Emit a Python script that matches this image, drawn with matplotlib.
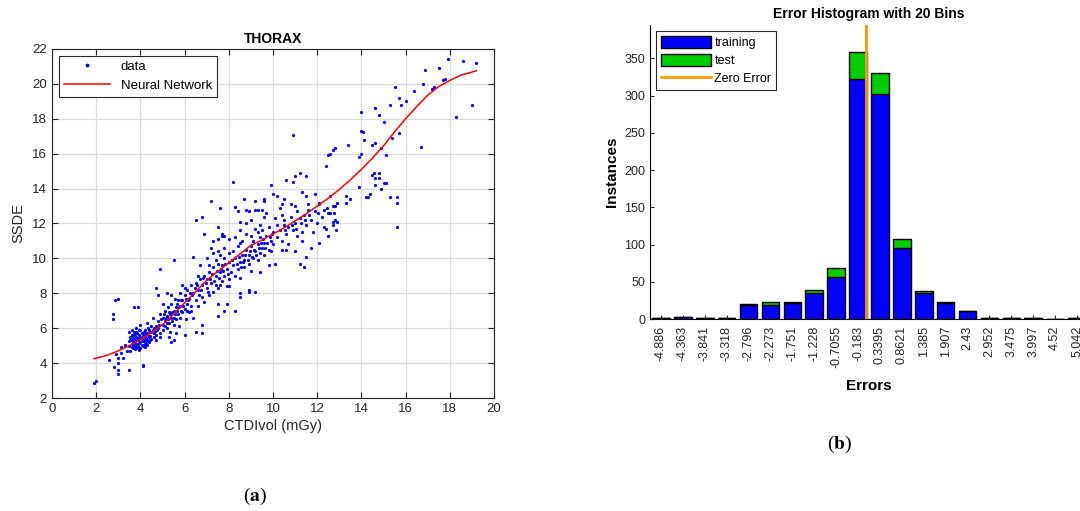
import numpy as np
import matplotlib
matplotlib.use('Agg')
import matplotlib.pyplot as plt
from matplotlib.patches import Patch
from matplotlib.lines import Line2D

plt.rcParams['font.family'] = ['Liberation Sans', 'DejaVu Sans']
plt.rcParams['mathtext.fontset'] = 'stix'

# ---- (a) THORAX scatter: points (CTDIvol, SSDE)
data_pts = [
    # sparse / outliers
    (1.9, 2.85), (2.0, 3.0), (2.6, 4.2), (2.8, 3.8), (2.75, 6.8), (2.75, 6.5), (2.85, 7.6), (3.0, 7.65),
    (3.0, 3.4), (3.0, 3.6), (3.0, 4.0), (3.0, 4.3), (3.1, 4.6), (3.1, 4.9), (3.2, 4.3), (2.9, 4.5),
    (3.3, 5.0), (3.5, 3.6), (3.7, 7.2), (3.9, 7.2), (4.1, 3.9), (4.12, 3.85), (4.7, 8.3), (4.8, 7.9),
    (4.9, 9.4), (5.5, 9.9), (5.4, 5.2), (5.5, 5.3), (6.0, 5.6), (6.5, 12.2), (6.4, 10.1), (6.8, 12.4),
    (6.9, 11.4), (6.5, 5.8), (6.8, 5.7), (6.8, 6.2), (7.2, 13.3), (7.5, 6.7), (7.5, 11.8), (7.6, 12.9),
    (7.5, 11.1), (7.5, 10.4), (7.7, 11.3), (8.2, 14.4), (8.3, 12.95), (8.4, 12.7), (7.5, 7.4), (7.8, 7.0),
    (8.3, 7.0), (8.5, 7.8), (8.5, 8.0), (8.9, 8.1), (9.2, 8.1), (8.9, 8.2), (9.4, 9.2), (9.8, 9.6),
    (10.1, 9.7), (8.7, 13.4), (9.2, 13.3), (9.6, 13.4), (9.3, 12.8), (9.7, 12.6), (9.9, 14.2), (10.0, 13.7),
    (10.2, 13.6), (10.5, 13.4), (10.9, 17.1), (10.6, 14.5), (10.9, 14.4), (11.0, 14.7), (11.2, 14.9),
    (11.5, 14.7), (11.0, 13.0), (11.3, 13.8), (11.5, 13.6), (11.6, 13.1), (11.9, 13.7), (12.1, 13.2),
    (10.6, 10.5), (11.0, 10.4), (11.2, 9.7), (11.4, 9.5), (11.5, 10.1), (12.1, 10.9), (12.3, 11.8),
    (12.5, 12.6), (12.6, 13.6), (12.8, 13.0), (12.7, 12.1), (12.5, 11.3), (12.9, 12.1), (12.4, 15.3),
    (12.5, 15.9), (12.6, 16.0), (12.7, 16.2), (12.8, 16.3), (13.4, 16.5), (13.3, 13.6), (13.3, 13.2),
    (13.5, 13.4), (13.9, 14.1), (13.9, 15.8), (14.0, 16.0), (14.0, 17.3), (14.05, 17.25), (14.0, 18.4),
    (14.1, 16.8), (14.2, 13.5), (14.3, 13.5), (14.4, 13.7), (14.5, 14.8), (14.55, 14.9), (14.6, 14.6),
    (14.6, 14.2), (14.8, 14.6), (14.9, 14.0), (15.0, 14.3), (15.1, 14.3), (14.8, 14.9), (14.5, 16.5),
    (14.6, 16.6), (14.6, 18.6), (14.8, 18.2), (14.9, 16.3), (15.0, 17.8), (15.1, 15.9), (15.3, 18.8),
    (15.3, 13.5), (15.4, 16.9), (15.5, 19.8), (15.6, 13.2), (15.6, 13.5), (15.6, 11.8), (15.7, 19.2),
    (15.7, 17.2), (15.8, 18.8), (16.0, 19.0), (16.4, 19.6), (16.7, 16.4), (16.8, 20.0), (16.9, 20.8),
    (17.2, 19.7), (17.3, 19.8), (17.5, 20.9), (17.7, 20.2), (17.8, 20.3), (17.9, 21.4), (18.3, 18.1),
    (18.6, 21.3), (19.0, 18.8), (19.2, 21.2),
    # dense blob x 3.3-4.8
    (3.5, 5.0), (3.55, 5.3), (3.6, 5.6), (3.6, 4.9), (3.65, 5.2), (3.7, 5.8), (3.7, 5.4), (3.7, 5.0),
    (3.75, 4.8), (3.8, 5.5), (3.8, 5.1), (3.85, 5.7), (3.85, 4.9), (3.9, 5.3), (3.9, 5.0), (3.95, 5.6),
    (4.0, 5.9), (4.0, 5.2), (4.0, 4.85), (4.05, 5.4), (4.1, 5.7), (4.1, 5.0), (4.15, 5.3), (4.2, 5.9),
    (4.2, 5.5), (4.25, 5.1), (4.3, 5.7), (4.3, 5.35), (4.35, 6.0), (4.4, 5.5), (4.4, 5.2), (4.45, 5.8),
    (4.5, 6.1), (4.5, 5.4), (4.55, 6.6), (4.6, 5.7), (4.6, 5.5), (4.7, 6.1), (4.7, 5.3), (4.75, 5.9),
    (3.3, 5.05), (3.4, 4.7), (3.5, 5.8), (3.6, 5.9), (3.8, 6.0), (4.0, 6.2), (4.3, 6.3), (3.55, 4.7),
    (4.2, 4.9), (3.95, 4.75), (3.6, 5.1), (3.65, 5.45), (3.75, 5.25), (3.8, 4.95), (3.9, 5.45),
    (3.95, 5.15), (4.05, 5.05), (4.1, 5.55), (4.15, 5.8), (4.25, 5.45), (4.35, 5.25), (4.45, 5.55),
    (3.7, 5.6), (3.85, 5.35), (4.0, 5.5), (4.2, 5.2), (4.5, 5.8), (4.6, 6.0), (3.65, 4.85), (4.4, 5.9),
    (3.55, 5.5), (3.6, 5.35), (3.7, 5.15), (3.75, 5.65), (3.8, 5.8), (3.85, 5.1), (3.9, 4.85),
    (3.95, 5.9), (4.05, 5.7), (4.1, 5.25), (4.15, 5.05), (4.2, 5.65), (4.3, 5.05), (4.35, 5.6),
    (4.45, 5.35), (4.55, 5.9), (4.65, 5.85), (4.7, 5.6), (3.5, 5.25), (3.75, 4.9),
    # band x 4.8-6.5
    (4.8, 6.0), (4.8, 6.4), (4.9, 5.7), (4.9, 6.8), (5.0, 6.2), (5.0, 6.6), (5.0, 5.9), (5.1, 6.4),
    (5.1, 7.0), (5.2, 6.0), (5.2, 6.7), (5.25, 7.2), (5.3, 6.3), (5.3, 6.9), (5.35, 5.8), (5.4, 6.6),
    (5.4, 7.4), (5.5, 6.2), (5.5, 7.0), (5.55, 7.7), (5.6, 6.5), (5.6, 7.2), (5.7, 6.8), (5.7, 7.6),
    (5.75, 6.1), (5.8, 7.3), (5.8, 8.0), (5.9, 6.9), (5.9, 7.6), (6.0, 7.1), (6.0, 7.9), (6.05, 6.5),
    (6.1, 7.4), (6.1, 8.2), (6.2, 7.7), (6.2, 6.9), (6.3, 8.5), (6.3, 7.3), (6.4, 8.0), (6.4, 6.6),
    (6.5, 7.6), (6.5, 8.6), (5.2, 8.0), (5.4, 7.9), (5.9, 8.5), (6.0, 8.3), (5.0, 7.4), (5.6, 5.7),
    (5.3, 5.5), (4.9, 5.5), (5.1, 6.1), (5.45, 6.9), (5.65, 7.0), (5.85, 7.0), (6.15, 7.6), (6.35, 7.9),
    (4.85, 6.2), (4.95, 6.5), (5.05, 6.8), (5.15, 6.6), (5.25, 6.5), (5.35, 6.8), (5.45, 6.4),
    (5.55, 6.8), (5.65, 7.4), (5.75, 7.2), (5.85, 7.6), (5.95, 7.3), (6.05, 7.7), (6.25, 8.0),
    (6.45, 8.3), (5.2, 6.3), (5.5, 6.6), (5.8, 6.6), (6.1, 7.0), (6.3, 7.0),
    # band x 6.5-8
    (6.6, 8.2), (6.6, 7.3), (6.7, 8.8), (6.8, 7.8), (6.8, 8.5), (6.9, 9.0), (6.9, 7.5), (7.0, 8.3),
    (7.0, 8.8), (7.1, 9.2), (7.1, 7.9), (7.2, 8.6), (7.3, 9.5), (7.3, 8.1), (7.4, 9.0), (7.4, 8.5),
    (7.5, 9.7), (7.5, 8.3), (7.6, 9.2), (7.6, 10.2), (7.7, 8.7), (7.7, 9.6), (7.8, 10.0), (7.8, 9.0),
    (7.9, 8.4), (7.9, 9.4), (8.0, 10.3), (8.0, 9.8), (8.0, 8.8), (7.2, 10.6), (7.0, 10.0), (7.3, 10.3),
    (7.8, 10.6), (7.7, 11.4), (6.7, 9.6), (6.6, 9.0), (7.9, 7.4), (8.0, 8.4),
    (6.55, 8.5), (6.65, 7.9), (6.75, 8.2), (6.85, 8.9), (6.95, 8.6), (7.05, 8.1), (7.15, 8.8),
    (7.25, 9.1), (7.35, 8.7), (7.45, 9.3), (7.55, 8.9), (7.65, 9.4), (7.75, 9.3), (7.85, 9.7),
    (7.95, 9.1), (7.1, 9.6), (7.4, 9.9), (7.6, 8.5),
    # band x 8-10.3
    (8.1, 9.2), (8.2, 9.6), (8.2, 10.4), (8.3, 9.0), (8.3, 10.0), (8.4, 9.4), (8.4, 10.7), (8.5, 9.8),
    (8.5, 8.9), (8.6, 10.2), (8.6, 11.0), (8.7, 9.5), (8.7, 9.9), (8.8, 10.5), (8.8, 11.4), (8.9, 9.7),
    (8.9, 10.2), (9.0, 10.7), (9.0, 9.3), (9.1, 11.0), (9.1, 10.0), (9.2, 10.4), (9.2, 11.7), (9.3, 10.8),
    (9.3, 9.9), (9.4, 11.2), (9.4, 10.3), (9.5, 10.6), (9.5, 11.6), (9.6, 10.9), (9.6, 10.2), (9.7, 11.3),
    (9.8, 10.5), (9.8, 11.8), (9.9, 11.0), (10.0, 11.5), (10.0, 10.8), (10.1, 12.3), (10.2, 11.2),
    (10.3, 11.6), (8.5, 11.6), (8.8, 12.0), (9.0, 12.2), (9.2, 12.8), (9.4, 11.9), (8.5, 10.9),
    (8.3, 11.2), (9.6, 12.4), (9.0, 11.3), (9.9, 10.4),
    (8.15, 9.9), (8.35, 9.7), (8.45, 10.1), (8.55, 9.5), (8.65, 9.8), (8.75, 10.2), (8.85, 9.9),
    (8.95, 10.4), (9.05, 10.1), (9.15, 10.5), (9.25, 10.2), (9.35, 10.6), (9.45, 10.9), (9.55, 11.1),
    (9.65, 10.6), (9.75, 10.9), (9.85, 11.2), (9.95, 11.4),
    # x 10.3-13
    (10.4, 11.0), (10.5, 11.9), (10.5, 12.2), (10.6, 11.4), (10.7, 11.8), (10.8, 12.4), (10.9, 11.6),
    (11.0, 12.0), (11.1, 11.3), (11.1, 12.7), (11.2, 12.3), (11.3, 11.5), (11.4, 12.5), (11.5, 11.9),
    (11.6, 12.8), (11.7, 12.2), (11.8, 11.5), (11.9, 12.7), (12.0, 12.0), (12.1, 13.1), (12.2, 12.4),
    (12.3, 12.8), (12.4, 11.7), (12.6, 12.6), (12.7, 13.0), (12.8, 12.2), (12.9, 13.2), (12.85, 11.6),
    (12.7, 11.9), (10.4, 12.5), (10.7, 10.8), (11.3, 11.0), (11.7, 10.6), (10.2, 11.9), (10.4, 10.5),
    (10.55, 11.6), (10.85, 11.9), (11.05, 11.7), (11.25, 12.0), (11.45, 12.2), (11.65, 12.5),
    (12.05, 12.6), (12.45, 12.9), (12.75, 12.6),
    # upper spread x 7-10.8
    (7.3, 11.0), (7.8, 11.3), (8.0, 11.1), (8.5, 12.1), (8.9, 12.7), (8.8, 12.8), (9.3, 11.5),
    (9.6, 13.3), (9.5, 12.8), (10.3, 12.9), (10.8, 13.1), (10.4, 13.1),
]
ctdi = [p[0] for p in data_pts]
ssde = [p[1] for p in data_pts]

# neural network fit curve
nn_x = [1.9, 2.5, 3, 3.5, 4, 4.5, 5, 5.5, 6, 6.5, 7, 7.5, 8, 8.5, 9, 9.5, 10, 10.5, 11,
        11.5, 12, 12.5, 13, 13.5, 14, 14.5, 15, 15.5, 16, 16.5, 17, 17.5, 18, 18.5, 19.2]
nn_y = [4.25, 4.45, 4.7, 5.0, 5.35, 5.75, 6.2, 6.8, 7.45, 8.1, 8.75, 9.25, 9.75, 10.25, 10.75,
        11.05, 11.4, 11.75, 12.15, 12.55, 13.0, 13.45, 13.95, 14.5, 15.1, 15.75, 16.45, 17.25,
        18.0, 18.7, 19.35, 19.85, 20.2, 20.5, 20.75]

# ---- (b) error histogram
bin_centers = [-4.886, -4.363, -3.841, -3.318, -2.796, -2.273, -1.751, -1.228, -0.7055, -0.183,
               0.3395, 0.8621, 1.385, 1.907, 2.43, 2.952, 3.475, 3.997, 4.52, 5.042]
bin_labels = ['-4.886', '-4.363', '-3.841', '-3.318', '-2.796', '-2.273', '-1.751', '-1.228',
              '-0.7055', '-0.183', '0.3395', '0.8621', '1.385', '1.907', '2.43', '2.952',
              '3.475', '3.997', '4.52', '5.042']
training = [2, 3, 1, 2, 19, 19, 21, 35, 56, 323, 302, 95, 35, 21, 11, 2, 2, 1, 0, 1]
test = [0, 0, 0, 0, 1, 4, 2, 4, 12, 36, 29, 13, 2, 2, 0, 0, 0, 0, 0, 0]

fig = plt.figure(figsize=(10.8, 5.11), dpi=100)

# ---------- left plot
ax1 = fig.add_axes([52 / 1080, 113 / 511, 442 / 1080, 349 / 511])
ax1.plot(ctdi, ssde, linestyle='none', marker='o', markersize=2.3, color='blue',
         markeredgewidth=0, label='data')
ax1.plot(nn_x, nn_y, color='red', linewidth=1.1, label='Neural Network')
ax1.set_xlim(0, 20)
ax1.set_ylim(2, 22)
ax1.set_xticks(range(0, 21, 2))
ax1.set_yticks(range(2, 23, 2))
ax1.grid(True, color='#dcdcdc', linewidth=0.9)
ax1.set_axisbelow(True)
ax1.tick_params(direction='in', top=True, right=True, labelsize=9.5, length=4, colors='#262626')
for s in ax1.spines.values():
    s.set_color('#262626')
ax1.set_title('THORAX', fontsize=10, fontweight='bold', pad=4)
ax1.set_xlabel('CTDIvol (mGy)', fontsize=10.5, color='#262626', labelpad=3)
ax1.set_ylabel('SSDE', fontsize=10.5, color='#262626', labelpad=5)
leg1 = ax1.legend(loc='upper left', fontsize=9.5, handlelength=3.5, markerscale=1.2,
                  fancybox=False, edgecolor='#262626', framealpha=1, borderaxespad=0.5)
leg1.get_frame().set_linewidth(0.8)

# ---------- right plot
ax2 = fig.add_axes([650 / 1080, 192 / 511, 438 / 1080, 294 / 511])
bw = 0.42
ax2.bar(bin_centers, training, width=bw, color='blue', edgecolor='black', linewidth=1.0)
ax2.bar(bin_centers, test, width=bw, bottom=training, color='#00cc00', edgecolor='black',
        linewidth=1.0)
ax2.axvline(0, color='#ff9900', linewidth=2)
ax2.set_xlim(-5.147, 5.303)
ax2.set_ylim(0, 394.9)
ax2.set_xticks(bin_centers)
ax2.set_xticklabels(bin_labels, rotation=90)
ax2.set_yticks(range(0, 351, 50))
ax2.tick_params(direction='in', labelsize=9, length=3, colors='#262626')
ax2.tick_params(axis='x', pad=5)
ax2.spines['top'].set_visible(False)
ax2.spines['right'].set_visible(False)
ax2.set_title('Error Histogram with 20 Bins', fontsize=10, fontweight='bold', pad=5)
ax2.set_xlabel('Errors', fontsize=11, fontweight='bold', labelpad=8)
ax2.set_ylabel('Instances', fontsize=11, fontweight='bold', labelpad=4)
handles = [Patch(facecolor='blue', edgecolor='black', label='training'),
           Patch(facecolor='#00cc00', edgecolor='black', label='test'),
           Line2D([0], [0], color='#ff9900', linewidth=2, label='Zero Error')]
leg2 = ax2.legend(handles=handles, loc='upper left', fontsize=9, handlelength=4,
                  handleheight=1.1, handletextpad=0.3, labelspacing=0.4, fancybox=False,
                  edgecolor='#262626', framealpha=1, borderaxespad=0.5, borderpad=0.35)
leg2.get_frame().set_linewidth(0.8)

# captions
fig.text(255 / 1080, 1 - 496 / 511, r'($\mathbf{a}$)', fontsize=14, family='Liberation Serif',
         ha='center', va='center')
fig.text(840 / 1080, 1 - 444 / 511, r'($\mathbf{b}$)', fontsize=14, family='Liberation Serif',
         ha='center', va='center')

fig.savefig('out.png', dpi=100)
